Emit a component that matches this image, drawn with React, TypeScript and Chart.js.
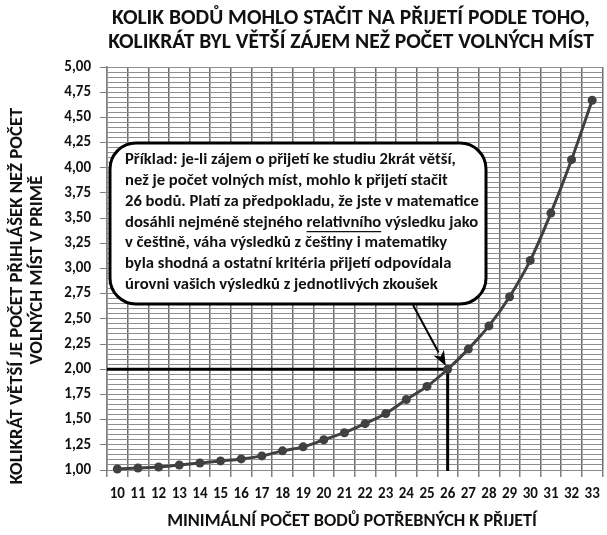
import React, { useEffect, useRef } from 'react';
import { Chart, registerables } from 'chart.js';

Chart.register(...registerables);

// ---- data ----
const categories = ['10', '11', '12', '13', '14', '15', '16', '17', '18', '19', '20', '21', '22', '23', '24', '25', '26', '27', '28', '29', '30', '31', '32', '33'];
const ratios = [1.01, 1.02, 1.03, 1.05, 1.07, 1.09, 1.11, 1.14, 1.19, 1.23, 1.30, 1.37, 1.46, 1.56, 1.70, 1.83, 2.00, 2.20, 2.43, 2.72, 3.08, 3.55, 4.08, 4.67];
const yMin = 1;
const yMax = 5;
const yGridStep = 0.05;
const yLabelStep = 0.25;
const exampleCategory = '26';
const exampleRatio = 2.0;

const titleLines = ['KOLIK BODŮ MOHLO STAČIT NA PŘIJETÍ PODLE TOHO,', 'KOLIKRÁT BYL VĚTŠÍ ZÁJEM NEŽ POČET VOLNÝCH MÍST'];
const xTitle = 'MINIMÁLNÍ POČET BODŮ POTŘEBNÝCH K PŘIJETÍ';
const yTitleLines = ['KOLIKRÁT VĚTŠÍ JE POČET PŘIHLÁŠEK NEŽ POČET', 'VOLNÝCH MÍST V PRIMĚ'];
const noteLines = [
  'Příklad: je-li zájem o přijetí ke studiu 2krát větší,',
  'než je počet volných míst, mohlo k přijetí stačit',
  '26 bodů. Platí za předpokladu, že jste v matematice',
  'dosáhli nejméně stejného relativního výsledku jako',
  'v češtině, váha výsledků z češtiny i matematiky',
  'byla shodná a ostatní kritéria přijetí odpovídala',
  'úrovni vašich výsledků z jednotlivých zkoušek',
];
const noteUnderlineLine = 3;
const noteUnderlinePrefix = 'dosáhli nejméně stejného ';
const noteUnderlineWord = 'relativního';

const FONT = 'Carlito, Calibri, Lato, sans-serif';

function fitSize(ctx: CanvasRenderingContext2D, text: string, target: number): number {
  const base = 20;
  ctx.font = `bold ${base}px ${FONT}`;
  const w = ctx.measureText(text).width;
  return (base * target) / w;
}

function isMajor(v: number): boolean {
  const q = v / yLabelStep;
  return Math.abs(q - Math.round(q)) < 1e-6;
}

const overlayPlugin = {
  id: 'overlay',
  beforeDatasetsDraw(chart: any) {
    const { ctx, chartArea, scales } = chart;
    const xs = scales.x;
    const ys = scales.y;
    const px = xs.getPixelForValue(categories.indexOf(exampleCategory));
    const py = ys.getPixelForValue(exampleRatio);
    ctx.save();
    ctx.strokeStyle = '#000';
    ctx.lineWidth = 3;
    ctx.beginPath();
    ctx.moveTo(chartArea.left, py);
    ctx.lineTo(px, py);
    ctx.moveTo(px, py);
    ctx.lineTo(px, chartArea.bottom + 1);
    ctx.stroke();
    ctx.restore();
  },
  afterDatasetsDraw(chart: any) {
    const { ctx, scales } = chart;
    const xs = scales.x;
    const ys = scales.y;
    const px = xs.getPixelForValue(categories.indexOf(exampleCategory));
    const py = ys.getPixelForValue(exampleRatio);

    // callout box
    const bx = 110, by = 143, bw = 376, bh = 161, r = 26;
    ctx.save();
    ctx.beginPath();
    ctx.moveTo(bx + r, by);
    ctx.lineTo(bx + bw - r, by);
    ctx.arcTo(bx + bw, by, bx + bw, by + r, r);
    ctx.lineTo(bx + bw, by + bh - r);
    ctx.arcTo(bx + bw, by + bh, bx + bw - r, by + bh, r);
    ctx.lineTo(bx + r, by + bh);
    ctx.arcTo(bx, by + bh, bx, by + bh - r, r);
    ctx.lineTo(bx, by + r);
    ctx.arcTo(bx, by, bx + r, by, r);
    ctx.closePath();
    ctx.fillStyle = '#fff';
    ctx.fill();
    ctx.lineWidth = 3;
    ctx.strokeStyle = '#000';
    ctx.stroke();

    // text
    const size = fitSize(ctx, noteLines[2], 354);
    ctx.font = `bold ${size}px ${FONT}`;
    ctx.fillStyle = '#111';
    ctx.textAlign = 'left';
    ctx.textBaseline = 'middle';
    const tx = 125;
    noteLines.forEach((line, i) => {
      const ty = 160 + i * 20.8;
      ctx.fillText(line, tx, ty);
      if (i === noteUnderlineLine) {
        const ux = tx + ctx.measureText(noteUnderlinePrefix).width;
        const uw = ctx.measureText(noteUnderlineWord).width;
        ctx.lineWidth = 1.2;
        ctx.strokeStyle = '#111';
        ctx.beginPath();
        ctx.moveTo(ux, ty + size * 0.55);
        ctx.lineTo(ux + uw, ty + size * 0.55);
        ctx.stroke();
      }
    });

    // arrow
    const sx = 413, sy = 305;
    const dx = px - sx, dy = py - sy;
    const len = Math.hypot(dx, dy);
    const ux = dx / len, uy = dy / len;
    const tipX = px - ux * 4, tipY = py - uy * 4;
    const headL = 15, headW = 6;
    const baseX = tipX - ux * headL, baseY = tipY - uy * headL;
    ctx.strokeStyle = '#000';
    ctx.lineWidth = 2;
    ctx.beginPath();
    ctx.moveTo(sx, sy);
    ctx.lineTo(baseX, baseY);
    ctx.stroke();
    ctx.fillStyle = '#000';
    ctx.beginPath();
    ctx.moveTo(tipX, tipY);
    ctx.lineTo(baseX - uy * headW, baseY + ux * headW);
    ctx.lineTo(tipX - ux * headL * 0.7, tipY - uy * headL * 0.7);
    ctx.lineTo(baseX + uy * headW, baseY - ux * headW);
    ctx.closePath();
    ctx.fill();
    ctx.restore();
  },
  afterDraw(chart: any) {
    const { ctx } = chart;
    ctx.save();
    ctx.fillStyle = '#111';
    ctx.textAlign = 'center';
    ctx.textBaseline = 'middle';
    const ts = fitSize(ctx, titleLines[0], 478);
    ctx.font = `bold ${ts}px ${FONT}`;
    ctx.fillText(titleLines[0], 351, 19);
    ctx.fillText(titleLines[1], 351, 43);

    const xsz = fitSize(ctx, xTitle, 370);
    ctx.font = `bold ${xsz}px ${FONT}`;
    ctx.fillText(xTitle, 352, 521);

    const ysz = fitSize(ctx, yTitleLines[0], 377);
    ctx.font = `bold ${ysz}px ${FONT}`;
    ctx.save();
    ctx.translate(17, 296);
    ctx.rotate(-Math.PI / 2);
    ctx.fillText(yTitleLines[0], 0, 0);
    ctx.restore();
    ctx.save();
    ctx.translate(37, 270);
    ctx.rotate(-Math.PI / 2);
    ctx.fillText(yTitleLines[1], 0, 0);
    ctx.restore();
    ctx.restore();
  },
};

export default function App() {
  const ref = useRef<HTMLCanvasElement | null>(null);
  useEffect(() => {
    if (!ref.current) return;
    const chart = new Chart(ref.current, {
      type: 'line',
      data: {
        labels: categories,
        datasets: [
          {
            data: ratios,
            borderColor: '#404040',
            backgroundColor: '#404040',
            borderWidth: 3,
            pointRadius: 4.5,
            pointBorderWidth: 0,
            pointBackgroundColor: '#404040',
            tension: 0.35,
            clip: false as any,
          },
        ],
      },
      options: {
        responsive: false,
        animation: false,
        layout: { padding: { top: 67, left: 0, right: 0, bottom: 0 } },
        plugins: { legend: { display: false }, tooltip: { enabled: false }, title: { display: false } },
        scales: {
          x: {
            type: 'category',
            offset: true,
            grid: {
              offset: true,
              color: '#6c6c6c',
              lineWidth: 1.5,
              tickLength: 7,
              tickColor: '#808080',
            },
            border: { display: true, color: '#8a8a8a', width: 1 },
            ticks: {
              autoSkip: false,
              maxRotation: 0,
              padding: 8,
              color: '#111',
              font: { family: FONT, size: 15, weight: 'bold' },
            },
            afterFit(scale: any) {
              scale.height = 65;
              scale.paddingLeft = 0;
              scale.paddingRight = 0;
            },
          },
          y: {
            type: 'linear',
            min: yMin,
            max: yMax,
            grid: {
              color: '#8e8e8e',
              lineWidth: 1,
              tickLength: 7,
              tickColor: (c: any) => (c.tick && isMajor(c.tick.value) ? '#808080' : 'rgba(0,0,0,0)'),
            },
            border: { display: true, color: '#808080', width: 1.5 },
            ticks: {
              stepSize: yGridStep,
              autoSkip: false,
              padding: 9,
              color: '#111',
              font: { family: FONT, size: 15, weight: 'bold' },
              callback: (v: any) => (isMajor(Number(v)) ? Number(v).toFixed(2).replace('.', ',') : ''),
            },
            afterFit(scale: any) {
              scale.width = 107;
              scale.paddingTop = 0;
              scale.paddingBottom = 0;
            },
          },
        },
      },
      plugins: [overlayPlugin],
    } as any);
    return () => chart.destroy();
  }, []);
  return (
    <div style={{ position: 'absolute', left: 0, top: 0, width: 607, height: 535, background: '#fff' }}>
      <canvas ref={ref} width={607} height={535} style={{ display: 'block' }} />
    </div>
  );
}
